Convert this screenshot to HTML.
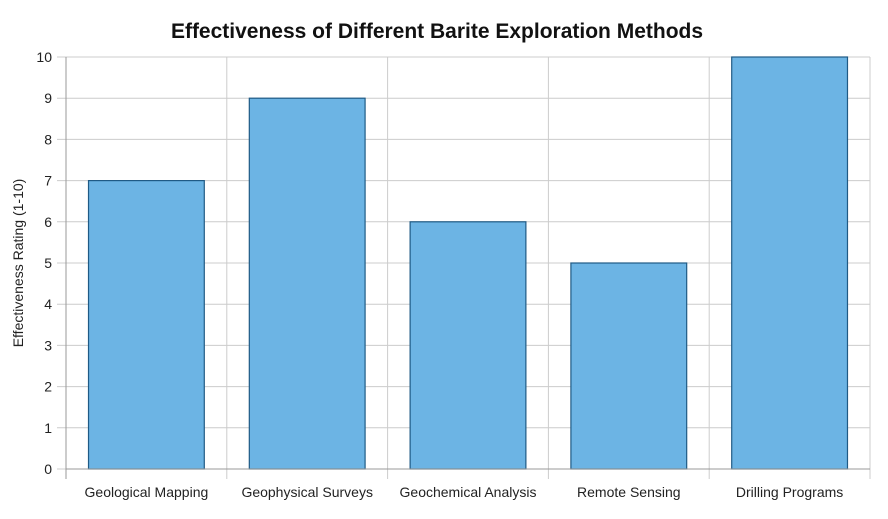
<!DOCTYPE html>
<html><head><meta charset="utf-8"><style>
body{margin:0;background:#fff;font-family:"Liberation Sans",sans-serif}
</style></head><body>
<svg id="chart" width="888" height="514" xmlns="http://www.w3.org/2000/svg">
<text x="437" y="38" text-anchor="middle" font-size="21" font-weight="bold" fill="#111">Effectiveness of Different Barite Exploration Methods</text>
<text transform="translate(23,263) rotate(-90)" text-anchor="middle" font-size="14" fill="#222">Effectiveness Rating (1-10)</text>
<g id="grid"></g><g id="bars"></g><g id="axes"></g>
</svg>
<script>
const categories=["Geological Mapping","Geophysical Surveys","Geochemical Analysis","Remote Sensing","Drilling Programs"];
const values=[7,9,6,5,10];
const yTicks=[0,1,2,3,4,5,6,7,8,9,10];
const NS="http://www.w3.org/2000/svg";
const L=66,R=870,T=57,B=469,yMax=10;
const y=v=>B-(v/yMax)*(B-T);
const bw=(R-L)/categories.length;
const x=i=>L+i*bw;
function mk(tag,attrs,parent,text){const e=document.createElementNS(NS,tag);for(const k in attrs)e.setAttribute(k,attrs[k]);if(text!==undefined)e.textContent=text;document.getElementById(parent).appendChild(e);return e;}
yTicks.forEach(t=>{
 const g=mk('line',{x1:57,x2:R,y1:y(t),y2:y(t),stroke:'#cccccc','stroke-width':1},'grid');
 
 
 const l=mk('text',{x:52,y:y(t)+5,'text-anchor':'end','font-size':14,fill:'#222'},'axes',t);
 
 
});
for(let i=0;i<=categories.length;i++){
 const g=mk('line',{x1:x(i),x2:x(i),y1:T,y2:479,stroke:i==0?'#999':'#cccccc','stroke-width':1},'grid');
 
 
}
categories.forEach((c,i)=>{
 const w=bw*0.72;
 const b=mk('rect',{x:x(i)+(bw-w)/2,y:y(values[i]),width:w,height:B-y(values[i]),fill:'#6cb4e4',stroke:'#1f5a85','stroke-width':1.2},'bars');
 
 
 const l=mk('text',{x:x(i)+bw/2,y:497,'text-anchor':'middle','font-size':14,fill:'#222'},'axes',c);
 
 
});
const a=mk('line',{x1:L,x2:R,y1:B,y2:B,stroke:'#999','stroke-width':1},'axes');


</script>
</body></html>
